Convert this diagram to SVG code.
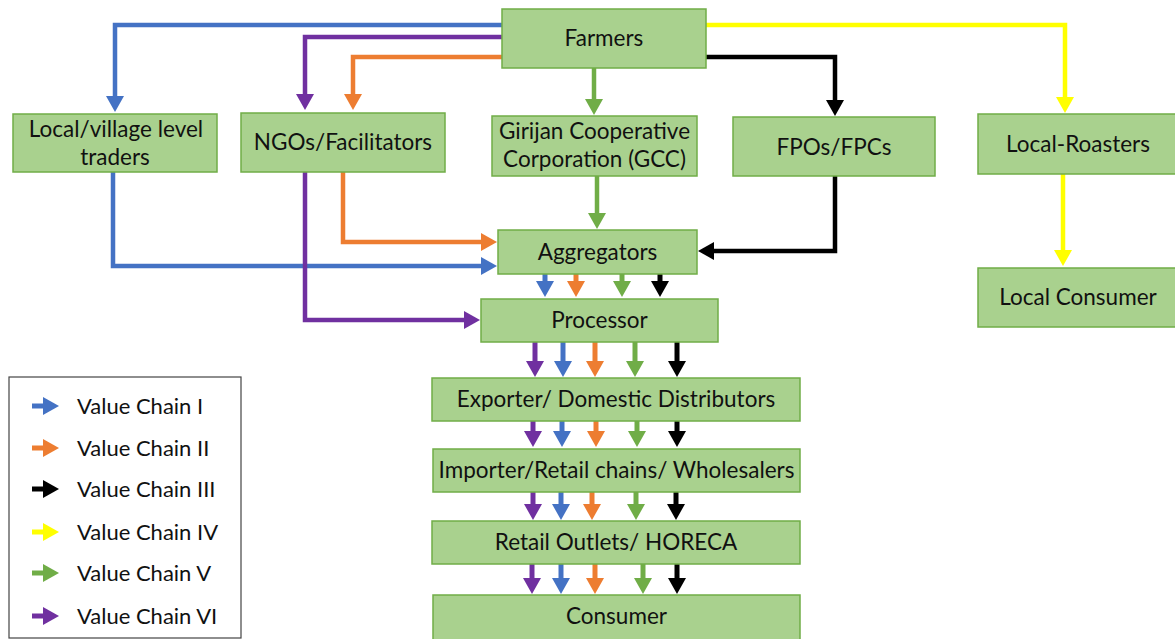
<svg xmlns="http://www.w3.org/2000/svg" width="1175" height="639" viewBox="0 0 1175 639">
<style>
.box{fill:#A9D18E;stroke:#70AD47;stroke-width:1.5}
.t{font-family:Lato,"Liberation Sans",sans-serif;font-size:22.5px;fill:#111;text-anchor:middle}
.lg{font-family:Lato,"Liberation Sans",sans-serif;font-size:22px;fill:#111}
.c{fill:none;stroke-width:4.5;stroke-linejoin:miter}
.s{fill:none;stroke-width:5}
.b{stroke:#4472C4}.o{stroke:#ED7D31}.k{stroke:#000}.y{stroke:#FFFF00}.g{stroke:#70AD47}.p{stroke:#7030A0}
</style>
<defs>
<marker id="mb" viewBox="0 0 16 18" markerWidth="16" markerHeight="18" refX="9" refY="9" orient="auto" markerUnits="userSpaceOnUse"><path d="M0,0L16,9L0,18z" fill="#4472C4"/></marker>
<marker id="mo" viewBox="0 0 16 18" markerWidth="16" markerHeight="18" refX="9" refY="9" orient="auto" markerUnits="userSpaceOnUse"><path d="M0,0L16,9L0,18z" fill="#ED7D31"/></marker>
<marker id="mk" viewBox="0 0 16 18" markerWidth="16" markerHeight="18" refX="9" refY="9" orient="auto" markerUnits="userSpaceOnUse"><path d="M0,0L16,9L0,18z" fill="#000"/></marker>
<marker id="my" viewBox="0 0 16 18" markerWidth="16" markerHeight="18" refX="9" refY="9" orient="auto" markerUnits="userSpaceOnUse"><path d="M0,0L16,9L0,18z" fill="#FFFF00"/></marker>
<marker id="mg" viewBox="0 0 16 18" markerWidth="16" markerHeight="18" refX="9" refY="9" orient="auto" markerUnits="userSpaceOnUse"><path d="M0,0L16,9L0,18z" fill="#70AD47"/></marker>
<marker id="mp" viewBox="0 0 16 18" markerWidth="16" markerHeight="18" refX="9" refY="9" orient="auto" markerUnits="userSpaceOnUse"><path d="M0,0L16,9L0,18z" fill="#7030A0"/></marker>
</defs>
<rect width="1175" height="639" fill="#fff"/>
<g id="connectors">
<path class="c b" d="M502,25H115V105" marker-end="url(#mb)"/>
<path class="c p" d="M502,37H305V103" marker-end="url(#mp)"/>
<path class="c o" d="M502,57H353V103" marker-end="url(#mo)"/>
<path class="c y" d="M706,25H1065V106" marker-end="url(#my)"/>
<path class="c k" d="M706,57H835V109" marker-end="url(#mk)"/>
<path class="c g" d="M594,68V108" marker-end="url(#mg)"/>
<path class="c g" d="M597,176V222" marker-end="url(#mg)"/>
<path class="c k" d="M835,176V251H705" marker-end="url(#mk)"/>
<path class="c o" d="M343,172V242H490" marker-end="url(#mo)"/>
<path class="c b" d="M113,172V266H490" marker-end="url(#mb)"/>
<path class="c p" d="M305,172V320H473" marker-end="url(#mp)"/>
<path class="c y" d="M1063,174V259" marker-end="url(#my)"/>
<!-- Aggregators to Processor -->
<path class="s b" d="M545,274V290" marker-end="url(#mb)"/>
<path class="s o" d="M576,274V290" marker-end="url(#mo)"/>
<path class="s g" d="M622,274V290" marker-end="url(#mg)"/>
<path class="s k" d="M660,274V290" marker-end="url(#mk)"/>
<!-- Processor to Exporter -->
<path class="s p" d="M535,342V370" marker-end="url(#mp)"/>
<path class="s b" d="M563,342V370" marker-end="url(#mb)"/>
<path class="s o" d="M595,342V370" marker-end="url(#mo)"/>
<path class="s g" d="M635,342V370" marker-end="url(#mg)"/>
<path class="s k" d="M677,342V370" marker-end="url(#mk)"/>
<!-- Exporter to Importer -->
<path class="s p" d="M533,421V440" marker-end="url(#mp)"/>
<path class="s b" d="M562,421V440" marker-end="url(#mb)"/>
<path class="s o" d="M596,421V440" marker-end="url(#mo)"/>
<path class="s g" d="M637,421V440" marker-end="url(#mg)"/>
<path class="s k" d="M677,421V440" marker-end="url(#mk)"/>
<!-- Importer to Retail -->
<path class="s p" d="M533,492V513" marker-end="url(#mp)"/>
<path class="s b" d="M561,492V513" marker-end="url(#mb)"/>
<path class="s o" d="M592,492V513" marker-end="url(#mo)"/>
<path class="s g" d="M636,492V513" marker-end="url(#mg)"/>
<path class="s k" d="M676,492V513" marker-end="url(#mk)"/>
<!-- Retail to Consumer -->
<path class="s p" d="M532,564V587" marker-end="url(#mp)"/>
<path class="s b" d="M561,564V587" marker-end="url(#mb)"/>
<path class="s o" d="M595,564V587" marker-end="url(#mo)"/>
<path class="s g" d="M643,564V587" marker-end="url(#mg)"/>
<path class="s k" d="M677,564V587" marker-end="url(#mk)"/>
</g>
<g id="farmers"><rect class="box" x="502" y="9" width="204" height="59"/><text class="t" x="604" y="46">Farmers</text></g>
<g id="local-traders"><rect class="box" x="13" y="114" width="204" height="58"/><text class="t" x="116" y="137">Local/village level</text><text class="t" x="115" y="165">traders</text></g>
<g id="ngos"><rect class="box" x="241" y="113" width="204" height="59"/><text class="t" x="343" y="150">NGOs/Facilitators</text></g>
<g id="gcc"><rect class="box" x="492" y="116" width="205" height="60"/><text class="t" x="594.5" y="139">Girijan Cooperative</text><text class="t" x="594.5" y="167">Corporation (GCC)</text></g>
<g id="fpos"><rect class="box" x="733" y="117" width="202" height="59"/><text class="t" x="834" y="155">FPOs/FPCs</text></g>
<g id="local-roasters"><rect class="box" x="978" y="114" width="200" height="60"/><text class="t" x="1078" y="152">Local-Roasters</text></g>
<g id="local-consumer"><rect class="box" x="978" y="268" width="200" height="59"/><text class="t" x="1078" y="305">Local Consumer</text></g>
<g id="aggregators"><rect class="box" x="498" y="230" width="199" height="44"/><text class="t" x="597.5" y="260">Aggregators</text></g>
<g id="processor"><rect class="box" x="481" y="299" width="237" height="43"/><text class="t" x="599.5" y="328">Processor</text></g>
<g id="exporter"><rect class="box" x="432" y="378" width="368" height="43"/><text class="t" x="616" y="407">Exporter/ Domestic Distributors</text></g>
<g id="importer"><rect class="box" x="433" y="449" width="367" height="43"/><text class="t" x="616.5" y="478">Importer/Retail chains/ Wholesalers</text></g>
<g id="retail"><rect class="box" x="432" y="521" width="368" height="43"/><text class="t" x="616" y="550">Retail Outlets/ HORECA</text></g>
<g id="consumer"><rect class="box" x="433" y="595" width="367" height="46"/><text class="t" x="616.5" y="624">Consumer</text></g>
<g id="legend">
<rect x="9" y="377" width="232" height="261" fill="#fff" stroke="#444" stroke-width="1.2"/>
<path class="s b" d="M32,406H52" marker-end="url(#mb)"/><text class="lg" x="77" y="414">Value Chain I</text>
<path class="s o" d="M32,448H52" marker-end="url(#mo)"/><text class="lg" x="77" y="456">Value Chain II</text>
<path class="s k" d="M32,489H52" marker-end="url(#mk)"/><text class="lg" x="77" y="497">Value Chain III</text>
<path class="s y" d="M32,532H52" marker-end="url(#my)"/><text class="lg" x="77" y="540">Value Chain IV</text>
<path class="s g" d="M32,573H52" marker-end="url(#mg)"/><text class="lg" x="77" y="581">Value Chain V</text>
<path class="s p" d="M32,616H52" marker-end="url(#mp)"/><text class="lg" x="77" y="624">Value Chain VI</text>
</g>
</svg>
